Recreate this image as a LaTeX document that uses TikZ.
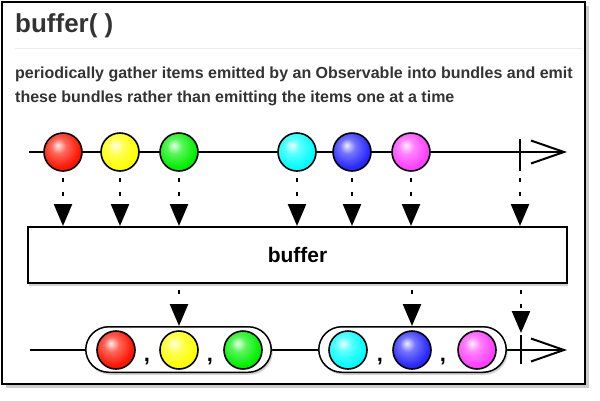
\documentclass[tikz,border=0pt]{standalone}
\usepackage{fontspec}
\setmainfont{Liberation Sans}
\usetikzlibrary{arrows.meta,shadows}
\definecolor{textgray}{HTML}{333333}
\definecolor{rulegray}{HTML}{EAEAEA}
\definecolor{mred}{HTML}{FF1400}
\definecolor{myellow}{HTML}{FFFF00}
\definecolor{mgreen}{HTML}{00F000}
\definecolor{mcyan}{HTML}{00FFFF}
\definecolor{mblue}{HTML}{2828FF}
\definecolor{mmagenta}{HTML}{FF40FF}
\colorlet{mcol}{red}
\pgfdeclareradialshading[mcol]{marbleshade}{\pgfqpoint{-7bp}{9bp}}{%
  color(0bp)=(mcol!8!white); color(10bp)=(mcol!65!white); color(26bp)=(mcol);
  color(44bp)=(mcol!85!black); color(62bp)=(mcol!55!black)}
\tikzset{
  marble/.style={circle,draw=black,line width=1.6pt,minimum size=38pt,inner sep=0pt,
    marblecol/.code={\colorlet{mcol}{##1}},marblecol=#1,shading=marbleshade},
  flow/.style={line width=2.5pt,dash pattern=on 4pt off 10pt,-{Triangle[width=18pt,length=22pt]}},
  timeline/.style={line width=2pt,-{Straight Barb[length=33pt,width=23pt]}},
  tickmark/.style={line width=2.5pt},
  bundle/.style={draw,line width=1.5pt,fill=white,rounded corners=23pt,inner sep=0pt,
    drop shadow={shadow xshift=1.5pt,shadow yshift=-2.5pt,opacity=0.35}},
  opbox/.style={draw,line width=2pt,fill=white,inner sep=0pt,minimum width=539pt,
    minimum height=56pt,font=\bfseries\fontsize{21}{21}\selectfont,
    drop shadow={shadow xshift=1pt,shadow yshift=-3pt,opacity=0.35}},
  sep/.style={font=\bfseries\fontsize{22}{22}\selectfont,anchor=base,inner sep=0pt}
}
\begin{document}
\begin{tikzpicture}[x=1pt,y=-1pt]
  \useasboundingbox (0,0) rectangle (600,400);
  \fill[white] (0,0) rectangle (600,400);
  % frame
  \draw[line width=1.5pt,fill=white,drop shadow={shadow xshift=4pt,shadow yshift=-4pt,opacity=0.4}]
    (2,2) rectangle (585,384);
  % heading
  \node[anchor=base west,inner sep=0pt,textgray,font=\bfseries\fontsize{26}{26}\selectfont]
    (title) at (15,32) {buffer( )};
  \draw[rulegray,line width=1pt] (15,48) -- (582,48);
  \node[anchor=base west,inner sep=0pt,textgray,font=\bfseries\fontsize{16}{16}\selectfont]
    (line1) at (15,78) {periodically gather items emitted by an Observable into bundles and emit};
  \node[anchor=base west,inner sep=0pt,textgray,font=\bfseries\fontsize{16}{16}\selectfont]
    (line2) at (15,102) {these bundles rather than emitting the items one at a time};

  % source
  \coordinate (srcstart) at (29,152);
  \coordinate (srcend) at (567,152);
  \draw[timeline] (srcstart) -- (srcend);
  \coordinate (tickA) at (520,139);
  \coordinate (tickAend) at (520,171);
  \draw[tickmark] (tickA) -- (tickAend);
  \node[marble=mred] (r1) at (63,152) {};
  \node[marble=myellow] (y1) at (120,152) {};
  \node[marble=mgreen] (g1) at (179,152) {};
  \node[marble=mcyan] (c1) at (297,152) {};
  \node[marble=mblue] (b1) at (352,152) {};
  \node[marble=mmagenta] (m1) at (411,152) {};

  % operator
  \node[opbox] (box) at (297.5,255) {buffer};
  \foreach \m in {r1,y1,g1,c1,b1,m1}
    \draw[flow] ([yshift=-6pt]\m.south) -- (\m |- box.north);
  \draw[flow] ([yshift=-7pt]tickAend) -- (tickAend |- box.north);

  % result
  \coordinate (resstart) at (30,350);
  \coordinate (resend) at (567,350);
  \draw[timeline] (resstart) -- (resend);
  \node[bundle,minimum width=185.5pt,minimum height=45.5pt] (bundleA) at (178.5,349.5) {};
  \node[bundle,minimum width=187.5pt,minimum height=45.5pt] (bundleB) at (412.5,349.5) {};
  \node[marble=mred] (r2) at (116,350) {};
  \node[marble=myellow] (y2) at (179,350) {};
  \node[marble=mgreen] (g2) at (243,350) {};
  \node[marble=mcyan] (c2) at (348,350) {};
  \node[marble=mblue] (b2) at (412,350) {};
  \node[marble=mmagenta] (m2) at (477,350) {};
  \node[sep] (commaA) at (147,361) {,};
  \node[sep] (commaB) at (210,361) {,};
  \node[sep] (commaC) at (380,361) {,};
  \node[sep] (commaD) at (443,361) {,};
  \coordinate (tickB) at (521,335);
  \coordinate (tickBend) at (521,364);
  \draw[tickmark] (tickB) -- (tickBend);
  \draw[flow] ([yshift=-6pt]box.south -| y2) -- (y2 |- bundleA.north);
  \draw[flow] ([yshift=-6pt]box.south -| b2) -- (b2 |- bundleB.north);
  \draw[flow] ([yshift=-6pt]box.south -| tickB) -- ([yshift=2pt]tickB);
\end{tikzpicture}
\end{document}
